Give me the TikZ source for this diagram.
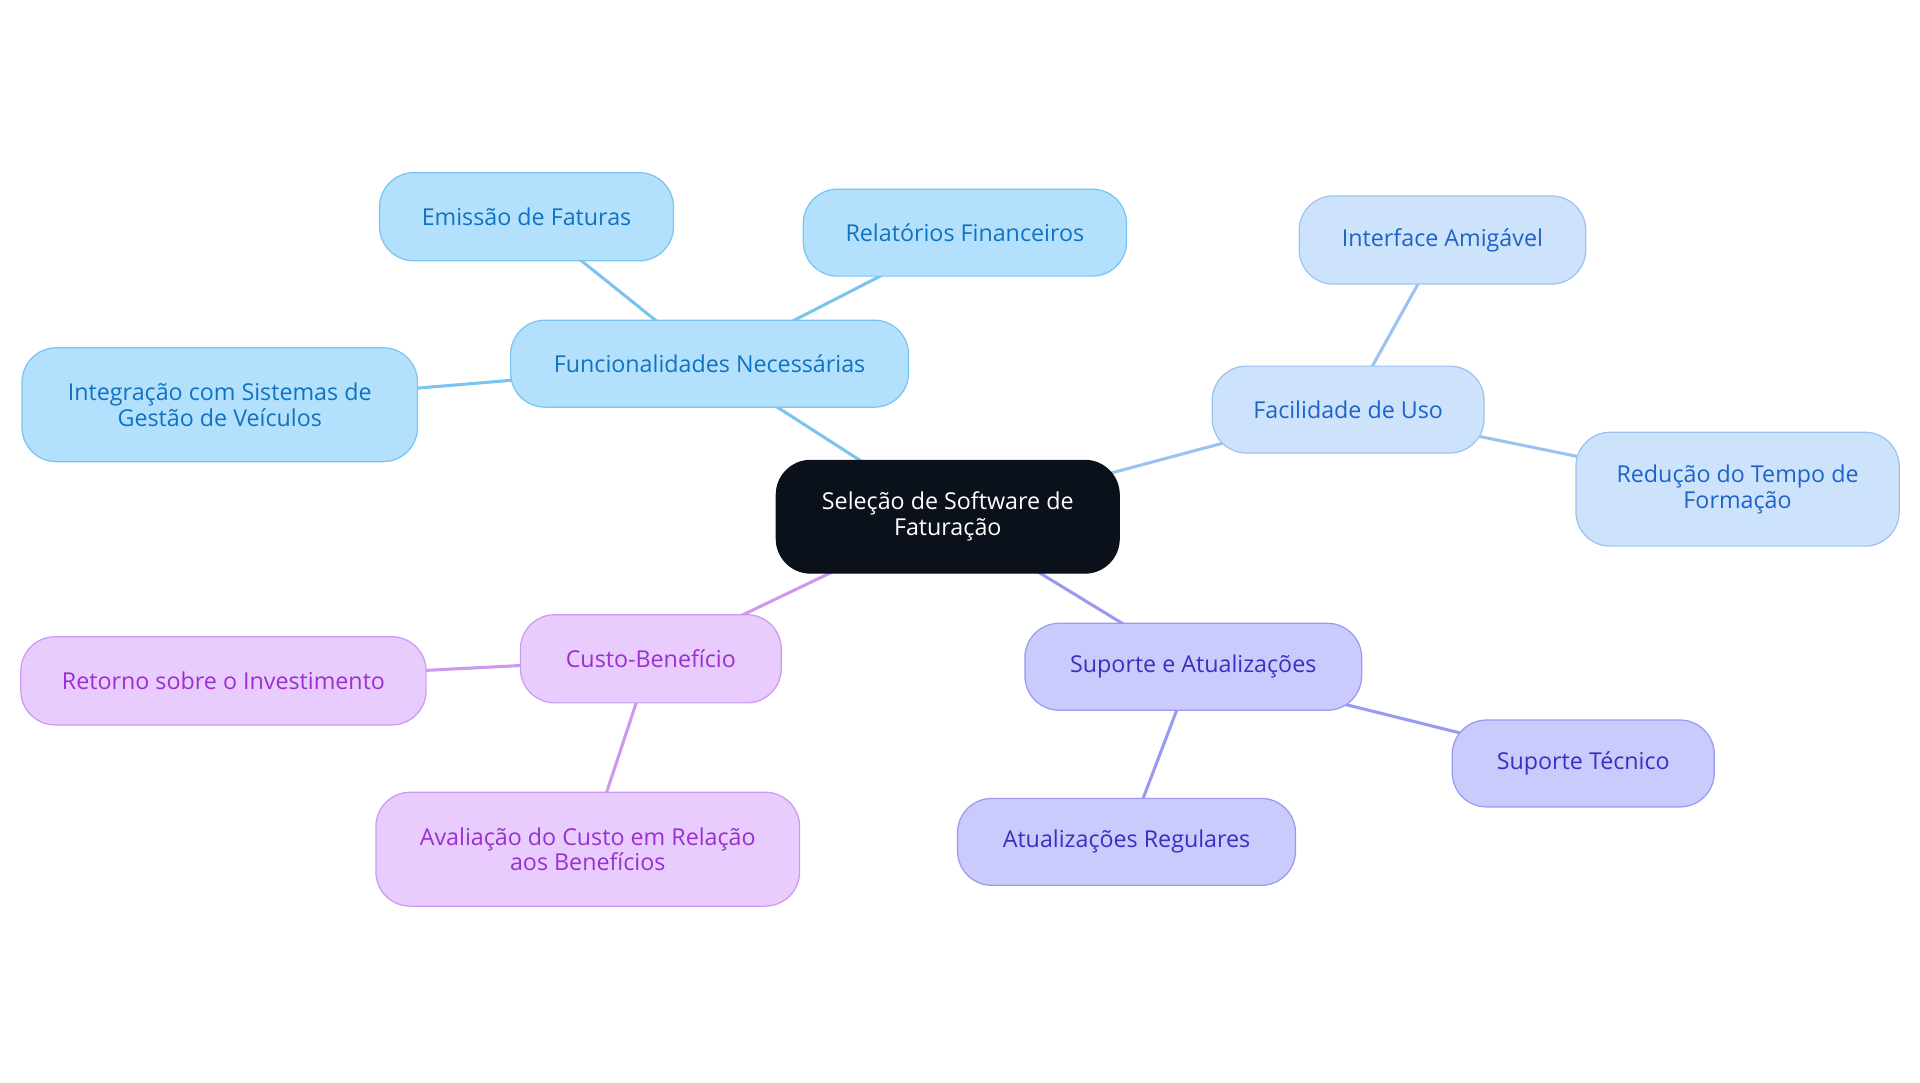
\documentclass[tikz,border=0pt]{standalone}
\usepackage{fontspec}
\setmainfont{Open Sans}
\usetikzlibrary{backgrounds}
\definecolor{rootc}{HTML}{0B111B}
\definecolor{bAf}{HTML}{B3E0FD}\definecolor{bAd}{HTML}{7CC4F0}\definecolor{bAt}{HTML}{1173C0}
\definecolor{bBf}{HTML}{CCE3FB}\definecolor{bBd}{HTML}{9CC3F0}\definecolor{bBt}{HTML}{1E63C8}
\definecolor{bCf}{HTML}{CACAFD}\definecolor{bCd}{HTML}{9A9AF0}\definecolor{bCt}{HTML}{3A2FC0}
\definecolor{bDf}{HTML}{E8CCFD}\definecolor{bDd}{HTML}{CC99F0}\definecolor{bDt}{HTML}{9A30D0}
\tikzset{
 box/.style={rounded corners=28pt,inner sep=0pt,align=center,line width=1pt,
   font=\fontsize{19}{21}\selectfont},
 rootbox/.style={box,fill=rootc,draw=rootc,text=white},
 ba/.style={box,fill=bAf,draw=bAd,text=bAt},
 bb/.style={box,fill=bBf,draw=bBd,text=bBt},
 bc/.style={box,fill=bCf,draw=bCd,text=bCt},
 bd/.style={box,fill=bDf,draw=bDd,text=bDt},
 ea/.style={draw=bAd,line width=2.5pt},
 eb/.style={draw=bBd,line width=2.5pt},
 ec/.style={draw=bCd,line width=2.5pt},
 ed/.style={draw=bDd,line width=2.5pt},
}
\begin{document}
\begin{tikzpicture}[x=1pt,y=-1pt]
\useasboundingbox (0,0) rectangle (1568,884);
\node[rootbox,minimum width=280pt,minimum height=92pt] (root) at (774,422) {Seleção de Software de\\Faturação};
\node[ba,minimum width=325pt,minimum height=71pt] (func) at (579.5,297) {Funcionalidades Necessárias};
\node[ba,minimum width=240pt,minimum height=72pt] (emis) at (430,177) {Emissão de Faturas};
\node[ba,minimum width=264pt,minimum height=71pt] (rel) at (788,190) {Relatórios Financeiros};
\node[ba,minimum width=323pt,minimum height=93pt] (integ) at (179.5,330.5) {Integração com Sistemas de\\Gestão de Veículos};
\node[bb,minimum width=222pt,minimum height=71pt] (fac) at (1101,334.5) {Facilidade de Uso};
\node[bb,minimum width=234pt,minimum height=72pt] (inter) at (1178,196) {Interface Amigável};
\node[bb,minimum width=264pt,minimum height=93pt] (red) at (1419,399.5) {Redução do Tempo de\\Formação};
\node[bc,minimum width=275pt,minimum height=71pt] (sup) at (974.5,544.5) {Suporte e Atualizações};
\node[bc,minimum width=214pt,minimum height=71pt] (tec) at (1293,623.5) {Suporte Técnico};
\node[bc,minimum width=276pt,minimum height=71pt] (atu) at (920,687.5) {Atualizações Regulares};
\node[bd,minimum width=213pt,minimum height=72pt] (cus) at (531.5,538) {Custo-Benefício};
\node[bd,minimum width=331pt,minimum height=72pt] (ret) at (182.5,556) {Retorno sobre o Investimento};
\node[bd,minimum width=346pt,minimum height=93pt] (ava) at (480,693.5) {Avaliação do Custo em Relação\\aos Benefícios};
\begin{scope}[on background layer]
\draw[ea] (root.center) -- (func.center);
\draw[ea] (func.center) -- (emis.center);
\draw[ea] (func.center) -- (rel.center);
\draw[ea] (func.center) -- (integ.center);
\draw[eb] (root.center) -- (fac.center);
\draw[eb] (fac.center) -- (inter.center);
\draw[eb] (fac.center) -- (red.center);
\draw[ec] (root.center) -- (sup.center);
\draw[ec] (sup.center) -- (tec.center);
\draw[ec] (sup.center) -- (atu.center);
\draw[ed] (root.center) -- (cus.center);
\draw[ed] (cus.center) -- (ret.center);
\draw[ed] (cus.center) -- (ava.center);
\end{scope}
\end{tikzpicture}
\end{document}
